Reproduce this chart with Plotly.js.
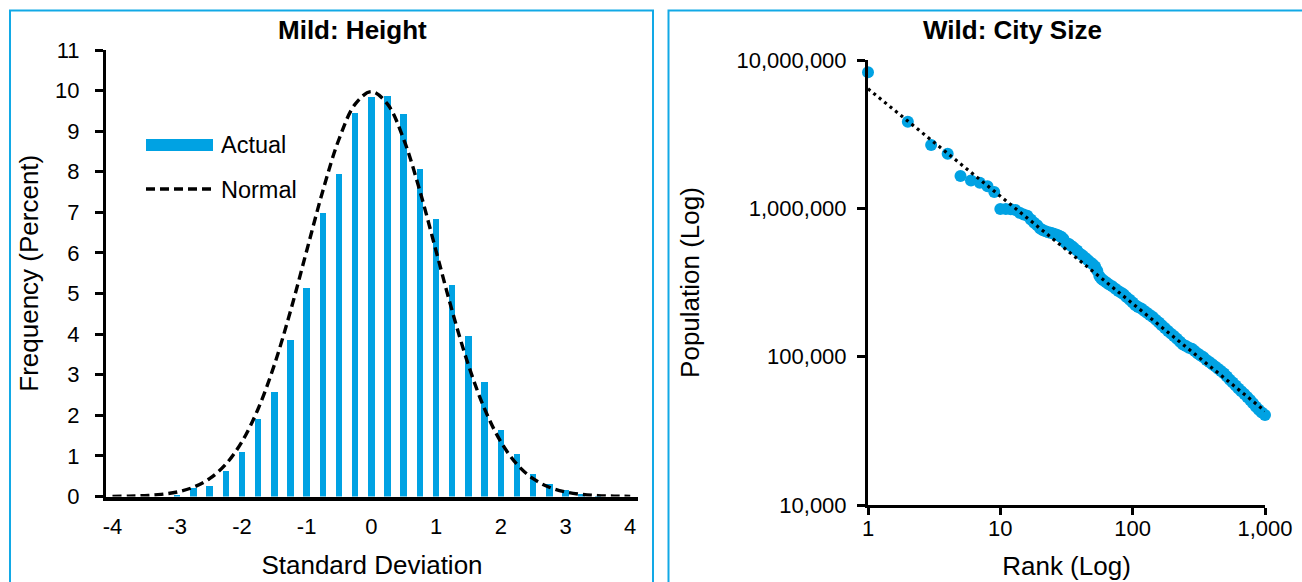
<!DOCTYPE html>
<html>
<head>
<meta charset="utf-8">
<script src="https://cdn.plot.ly/plotly-3.0.1.min.js"></script>
<style>
html,body{margin:0;padding:0;background:#fff;}
#chart{width:1302px;height:582px;}
</style>
</head>
<body>
<div id="chart"></div>
<script>
// ---- Left chart: Mild: Height ----
const actualX = [-3, -2.75, -2.5, -2.25, -2, -1.75, -1.5, -1.25, -1, -0.75, -0.5, -0.25, 0, 0.25, 0.5, 0.75, 1, 1.25, 1.5, 1.75, 2, 2.25, 2.5, 2.75, 3, 3.25, 3.5];
const actualY = [0.04, 0.22, 0.26, 0.64, 1.09, 1.90, 2.57, 3.86, 5.14, 6.98, 7.94, 9.45, 9.83, 9.86, 9.43, 8.08, 6.84, 5.21, 3.96, 2.83, 1.64, 1.04, 0.56, 0.32, 0.15, 0.06, 0.02];
const normalX = [-4, -3.75, -3.5, -3.25, -3, -2.75, -2.5, -2.25, -2, -1.75, -1.5, -1.25, -1, -0.75, -0.5, -0.25, 0, 0.25, 0.5, 0.75, 1, 1.25, 1.5, 1.75, 2, 2.25, 2.5, 2.75, 3, 3.25, 3.5, 3.75, 4];
const normalY = [0.003, 0.009, 0.022, 0.051, 0.111, 0.228, 0.438, 0.792, 1.35, 2.157, 3.238, 4.566, 6.049, 7.528, 8.801, 9.666, 9.974, 9.666, 8.801, 7.528, 6.049, 4.566, 3.238, 2.157, 1.35, 0.792, 0.438, 0.228, 0.111, 0.051, 0.022, 0.009, 0.003];
const leftXTicks = [-4, -3, -2, -1, 0, 1, 2, 3, 4];
const leftXTickText = ['-4', '-3', '-2', '-1', '0', '1', '2', '3', '4'];
const leftYTicks = [0, 1, 2, 3, 4, 5, 6, 7, 8, 9, 10, 11];

// ---- Right chart: Wild: City Size ----
const cityRank = [1, 2, 3, 4, 5, 6, 7, 8, 9, 10,
  11, 12, 13, 14, 15, 16, 17, 18, 19, 20,
  21, 22, 23, 24, 25, 26, 27, 28, 29, 30,
  31, 32, 33, 34, 35, 36, 38, 40, 42, 44, 46, 48, 50, 52, 54, 56, 58, 60,
  63, 66, 70, 74, 78, 82, 86, 90, 95, 100, 105, 110, 116, 122, 128, 135, 142, 150,
  158, 166, 175, 185, 195, 205, 216, 228, 240, 253, 266, 280, 295, 310, 326, 343, 361, 380,
  400, 420, 442, 465, 490, 515, 542, 570, 600, 630, 663, 698, 734, 772, 812, 854, 898, 945, 1000];
const cityPop = [8280000, 3830000, 2670000, 2330000, 1650000, 1540000, 1490000, 1410000, 1290000, 990000,
  990000, 985000, 975000, 935000, 910000, 890000, 840000, 800000, 770000, 730000,
  712000, 700000, 690000, 685000, 676000, 669000, 660000, 651000, 640000, 622000,
  586000, 580000, 574000, 562000, 550000, 540000, 520000, 495000, 480000, 462000, 446000, 432000, 420000, 405000, 380000, 350000, 335000, 328000,
  318000, 308000, 298000, 287000, 277000, 270000, 262000, 252000, 242000, 232000, 222000, 216000, 211000, 204000, 198000, 191000, 185000, 177000,
  170000, 163000, 156000, 149000, 143000, 138000, 132000, 126000, 121000, 118000, 115000, 113000, 109000, 105000, 102000, 99000, 95000, 92000,
  89000, 86000, 83000, 80000, 77000, 73500, 70000, 67000, 64000, 61000, 58500, 56000, 53500, 51000, 48500, 46000, 43800, 42000, 40500];
const trendRank = [1, 1000];
const trendPop = [6400000, 43000];
const rightXTicks = [1, 10, 100, 1000];
const rightXTickText = ['1', '10', '100', '1,000'];
const rightYTicks = [10000, 100000, 1000000, 10000000];
const rightYTickText = ['10,000', '100,000', '1,000,000', '10,000,000'];

const BLUE = '#00A2E3';
const BORDER = '#12A9E6';
const FONT = 'Liberation Sans, Arial, sans-serif';
const W = 1302, H = 582;
const px = v => v / W;
const py = v => 1 - v / H;

const traces = [
  {type: 'bar', x: actualX, y: actualY, width: 0.1, marker: {color: BLUE, line: {width: 0}},
   name: 'Actual', xaxis: 'x', yaxis: 'y', showlegend: false},
  {type: 'scatter', mode: 'lines', x: normalX, y: normalY, name: 'Normal',
   line: {color: '#000', width: 3.4, dash: '9px,5px', shape: 'spline', smoothing: 1},
   xaxis: 'x', yaxis: 'y', showlegend: false, cliponaxis: false},
  {type: 'scatter', mode: 'markers', x: cityRank, y: cityPop, name: 'Cities',
   marker: {color: BLUE, size: 12}, xaxis: 'x2', yaxis: 'y2', showlegend: false, cliponaxis: false},
  {type: 'scatter', mode: 'lines', x: trendRank, y: trendPop, name: 'Trend',
   line: {color: '#000', width: 3.2, dash: '3px,4px'}, xaxis: 'x2', yaxis: 'y2', showlegend: false, cliponaxis: false}
];

const tickFont = {family: FONT, size: 22, color: '#000'};
const titleFont = {family: FONT, size: 26, color: '#000'};

const layout = {
  width: W, height: H,
  margin: {l: 0, r: 0, t: 0, b: 0, pad: 0},
  paper_bgcolor: '#fff', plot_bgcolor: 'rgba(0,0,0,0)',
  font: {family: FONT, color: '#000'},
  showlegend: false,
  bargap: 0,
  xaxis: {
    domain: [px(106), px(638)], range: [-4.1, 4.12], anchor: 'y',
    tickvals: leftXTicks, ticktext: leftXTickText, ticks: '', showgrid: false, zeroline: false,
    showline: true, linecolor: '#000', linewidth: 4, tickfont: tickFont, ticklabelstandoff: 7,
    title: {text: 'Standard Deviation', font: titleFont, standoff: 19}
  },
  yaxis: {
    domain: [py(496.5), py(50)], range: [0, 11], anchor: 'x',
    tickvals: leftYTicks, ticks: 'outside', ticklen: 8, tickwidth: 3, tickcolor: '#000',
    showgrid: false, zeroline: false, showline: true, linecolor: '#000', linewidth: 3,
    tickfont: tickFont, ticklabelstandoff: 11,
    title: {text: 'Frequency (Percent)', font: titleFont, standoff: 10}
  },
  xaxis2: {
    domain: [px(868), px(1265)], type: 'log', range: [0, 3], anchor: 'y2',
    tickvals: rightXTicks, ticktext: rightXTickText, ticks: 'outside', ticklen: 7, tickwidth: 3, tickcolor: '#000',
    showgrid: false, zeroline: false, showline: true, linecolor: '#000', linewidth: 3,
    tickfont: tickFont, ticklabelstandoff: -5,
    title: {text: 'Rank (Log)', font: titleFont, standoff: 17}
  },
  yaxis2: {
    domain: [py(505), py(60)], type: 'log', range: [4, 7], anchor: 'x2',
    tickvals: rightYTicks, ticktext: rightYTickText, ticks: 'outside', ticklen: 8, tickwidth: 3, tickcolor: '#000',
    showgrid: false, zeroline: false, showline: true, linecolor: '#000', linewidth: 3,
    tickfont: tickFont, ticklabelstandoff: 6,
    title: {text: 'Population (Log)', font: titleFont, standoff: 30}
  },
  shapes: [
    {type: 'rect', xref: 'paper', yref: 'paper', x0: px(10), x1: px(653), y0: py(10.5), y1: py(600),
     line: {color: BORDER, width: 2}, fillcolor: 'rgba(0,0,0,0)', layer: 'below'},
    {type: 'rect', xref: 'paper', yref: 'paper', x0: px(668.5), x1: px(1320), y0: py(10.5), y1: py(600),
     line: {color: BORDER, width: 2}, fillcolor: 'rgba(0,0,0,0)', layer: 'below'},
    // legend symbols
    {type: 'rect', xref: 'paper', yref: 'paper', x0: px(146), x1: px(213), y0: py(139), y1: py(151),
     line: {width: 0}, fillcolor: BLUE},
    {type: 'line', xref: 'paper', yref: 'paper', x0: px(146), x1: px(213), y0: py(189), y1: py(189),
     line: {color: '#000', width: 3.4, dash: '9px,5px'}}
  ],
  annotations: [
    {text: '<b>Mild: Height</b>', xref: 'paper', yref: 'paper', x: px(353), y: py(30), showarrow: false,
     xanchor: 'center', yanchor: 'middle', font: {family: FONT, size: 26, color: '#000'}},
    {text: '<b>Wild: City Size</b>', xref: 'paper', yref: 'paper', x: px(1012), y: py(30), showarrow: false,
     xanchor: 'center', yanchor: 'middle', font: {family: FONT, size: 26, color: '#000'}},
    {text: 'Actual', xref: 'paper', yref: 'paper', x: px(219), y: py(145), showarrow: false,
     xanchor: 'left', yanchor: 'middle', font: {family: FONT, size: 23.5, color: '#000'}},
    {text: 'Normal', xref: 'paper', yref: 'paper', x: px(219), y: py(190), showarrow: false,
     xanchor: 'left', yanchor: 'middle', font: {family: FONT, size: 23.5, color: '#000'}}
  ]
};

Plotly.newPlot('chart', traces, layout, {displayModeBar: false, staticPlot: true});
</script>
</body>
</html>
